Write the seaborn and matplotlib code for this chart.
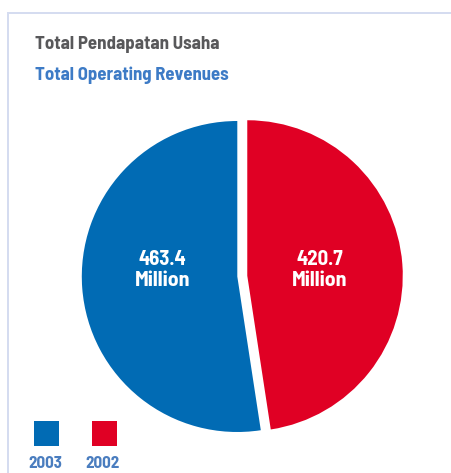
import matplotlib
matplotlib.use("Agg")
import matplotlib.pyplot as plt
import matplotlib.font_manager as fm
from matplotlib.patches import Rectangle
import seaborn as sns

# ---- data ----
years = ["2003", "2002"]
revenues = [463.4, 420.7]
value_numbers = ["463.4", "420.7"]
value_unit = "Million"
colors = ["#016bb4", "#e00024"]
title_id = "Total Pendapatan Usaha"
title_en = "Total Operating Revenues"

sns.set_theme(style="white")
plt.rcParams["font.family"] = ["Roboto", "DejaVu Sans"]


def pick_font(families, target_weight=700):
    for fam in families:
        best, bd = None, 1e9
        for f in fm.fontManager.ttflist:
            if f.name != fam or f.style != "normal":
                continue
            w = f.weight if isinstance(f.weight, int) else {"bold": 700, "normal": 400}.get(f.weight, 400)
            d = abs(w - target_weight)
            if d < bd:
                best, bd = f.fname, d
        if best:
            return best
    return fm.findfont(fm.FontProperties(family="Roboto", weight="bold"))


FONT_FILE = pick_font(["Barlow Semi Condensed", "Barlow Condensed", "Roboto"], 700)

W, H = 451, 473
fig = plt.figure(figsize=(W / 100, H / 100), dpi=100)
fig.patch.set_facecolor("white")
renderer = fig.canvas.get_renderer()

ax = fig.add_axes([0, 0, 1, 1])
cx, cy, R = 237.3, H - 276.5, 155.5
wedges, _ = ax.pie(revenues, colors=colors, startangle=90, counterclock=True,
                   explode=[0, 10], radius=R, center=(cx, cy),
                   wedgeprops=dict(linewidth=0))
ax.set_xlim(0, W)
ax.set_ylim(0, H)
ax.set_aspect("auto")
ax.axis("off")


def width_size(s, width):
    fp = fm.FontProperties(fname=FONT_FILE, size=10)
    t = ax.text(0, 0, s, fontproperties=fp)
    wpx = t.get_window_extent(renderer).width
    t.remove()
    return 10 * width / wpx if wpx > 0 else 10


def put(x, y_base, s, size, ha="left", **kw):
    fp = fm.FontProperties(fname=FONT_FILE, size=size)
    return ax.text(x, H - y_base, s, ha=ha, va="baseline", fontproperties=fp, **kw)


s_title = width_size(title_id, 184)
s_sub = width_size(title_en, 194)
s_val = width_size(value_unit, 55)

# value labels inside wedges
label_x = [162.5, 320]
for num, lx in zip(value_numbers, label_x):
    put(lx, 265.2, num, s_val * 0.95, ha="center", color="white")
    put(lx, 286.2, value_unit, s_val, ha="center", color="white")

# card border (left + top)
ax.add_patch(Rectangle((7, -5), 2.2, H - 12 + 5 - 1, color="#d5dcf0", lw=0, clip_on=False))
ax.add_patch(Rectangle((7, H - 14.3), W, 2.2, color="#d5dcf0", lw=0, clip_on=False))

# titles
put(35, 48.8, title_id, s_title, color="#58585a")
put(35, 80.0, title_en, s_sub, color="#3d7bc6")

# legend: squares with year labels below
s_leg = 0.5 * (width_size(years[0], 30) + s_title)
leg_x = [46.5, 104.5]
for yr, col, lx in zip(years, colors, leg_x):
    ax.add_patch(Rectangle((lx - 12.5, H - 445.5), 25, 25, color=col, lw=0))
    put(lx - 1.5, 468, yr, s_leg, ha="center", color="#4a7dbf")

fig.savefig("out.png", dpi=100)
